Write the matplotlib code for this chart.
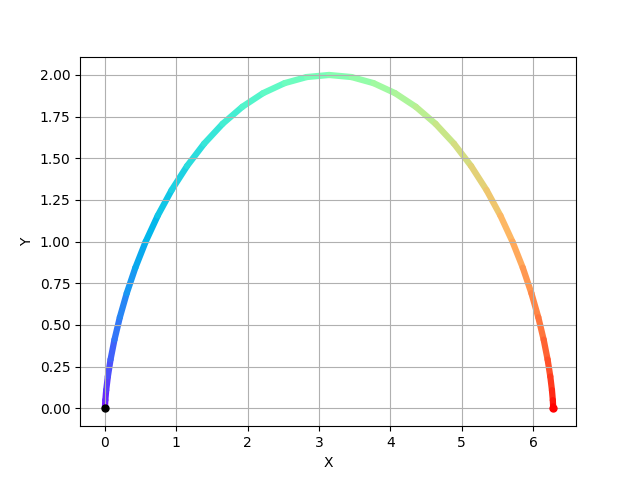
import matplotlib
matplotlib.use("Agg")
import matplotlib.pyplot as plt
from matplotlib.collections import LineCollection
import numpy as np

# points (evenly spaced along the path parameter)
xs = [0.0, 0.00065, 0.00514, 0.01725, 0.04053, 0.07829, 0.13346, 0.20855,
      0.30558, 0.42603, 0.57080, 0.74019, 0.93390, 1.15103, 1.39009, 1.64908,
      1.92548, 2.21636, 2.51841, 2.82808, 3.14159, 3.45510, 3.76478, 4.06683,
      4.35771, 4.63411, 4.89310, 5.13216, 5.34929, 5.54300, 5.71239, 5.85716,
      5.97761, 6.07464, 6.14973, 6.20490, 6.24266, 6.26594, 6.27805, 6.28254,
      6.28319]
ys = [0.0, 0.01231, 0.04894, 0.10899, 0.19098, 0.29289, 0.41221, 0.54601,
      0.69098, 0.84357, 1.0, 1.15643, 1.30902, 1.45399, 1.58779, 1.70711,
      1.80902, 1.89101, 1.95106, 1.98769, 2.0, 1.98769, 1.95106, 1.89101,
      1.80902, 1.70711, 1.58779, 1.45399, 1.30902, 1.15643, 1.0, 0.84357,
      0.69098, 0.54601, 0.41221, 0.29289, 0.19098, 0.10899, 0.04894, 0.01231,
      0.0]
start = (0.0, 0.0)
end = (6.28319, 0.0)

fig, ax = plt.subplots(figsize=(6.4, 4.79), dpi=100)

pts = np.column_stack([xs, ys])
segs = np.stack([pts[:-1], pts[1:]], axis=1)
cols = plt.cm.rainbow(np.linspace(0, 1, len(segs)))
lc = LineCollection(segs, colors=cols, linewidths=4.5, zorder=1)
lc.set_capstyle("round")
ax.add_collection(lc)

ax.scatter([start[0]], [start[1]], color="black", s=25, zorder=3)
ax.scatter([end[0]], [end[1]], color="red", s=25, zorder=3)

ax.set_xlim(-0.35, 6.603)
ax.set_ylim(-0.108, 2.105)
ax.set_xlabel("X")
ax.set_ylabel("Y")
ax.grid(True)

fig.savefig("out.png", dpi=100)
